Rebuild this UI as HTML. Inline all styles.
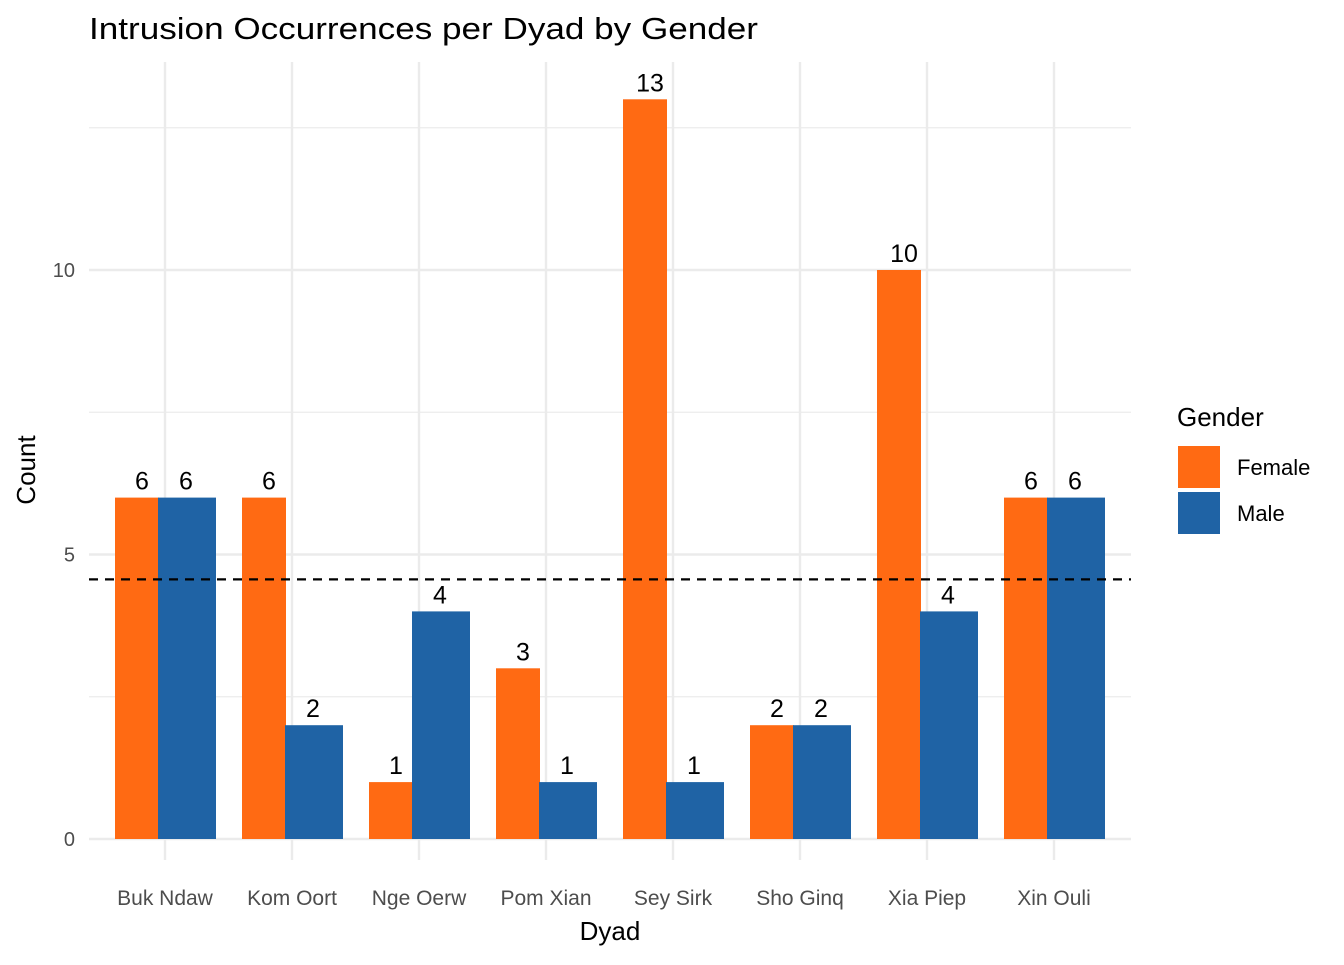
<!DOCTYPE html>
<html><head><meta charset="utf-8"><style>
body{margin:0;background:#fff;font-family:"Liberation Sans",Arial,sans-serif}
</style></head><body>
<svg id="chart" width="1344" height="960" xmlns="http://www.w3.org/2000/svg" font-family="Liberation Sans, Arial, sans-serif">
<text x="89" y="39" font-size="31" fill="#000" textLength="669" lengthAdjust="spacingAndGlyphs">Intrusion Occurrences per Dyad by Gender</text>
<g id="grid"></g><g id="bars"></g><g id="labels"></g>
<text x="610" y="940" font-size="26" text-anchor="middle">Dyad</text>
<text transform="translate(35,470) rotate(-90)" font-size="26" text-anchor="middle">Count</text>
<g>
<text x="1177" y="426" font-size="26">Gender</text>
<rect x="1178" y="446" width="42" height="42" fill="#FF6A13"/>
<text x="1237" y="475" font-size="22">Female</text>
<rect x="1178" y="492" width="42" height="42" fill="#1F63A5"/>
<text x="1237" y="521" font-size="22">Male</text>
</g>
</svg>
<script>
const categories=["Buk Ndaw","Kom Oort","Nge Oerw","Pom Xian","Sey Sirk","Sho Ginq","Xia Piep","Xin Ouli"];
const female=[6,6,1,3,13,2,10,6];
const male=[6,2,4,1,1,2,4,6];
const yTicks=[0,5,10];
const yMinor=[2.5,7.5,12.5];
const NS="http://www.w3.org/2000/svg";
const y=v=>839-v*56.9;
const x=i=>165+i*127;
function mk(t,a,p){const e=document.createElementNS(NS,t);for(const k in a)e.setAttribute(k,a[k]);p.appendChild(e);return e;}
const g=document.getElementById('grid'),b=document.getElementById('bars'),l=document.getElementById('labels');
yMinor.forEach(v=>{const e=mk('line',{x1:89,x2:1131,y1:y(v),y2:y(v),stroke:'#ebebeb','stroke-width':1.2},g);

});
yTicks.forEach(v=>{const e=mk('line',{x1:89,x2:1131,y1:y(v),y2:y(v),stroke:'#ebebeb','stroke-width':2.4},g);


const t=mk('text',{x:75,y:y(v)+7,'font-size':20,fill:'#4d4d4d','text-anchor':'end'},g);t.textContent=v;

});
categories.forEach((c,i)=>{const e=mk('line',{x1:x(i),x2:x(i),y1:62,y2:860,stroke:'#ebebeb','stroke-width':2.4},g);


const t=mk('text',{x:x(i),y:905,'font-size':21,fill:'#4d4d4d','text-anchor':'middle'},g);t.textContent=c;


const f=mk('rect',{x:x(i)-50,y:y(female[i]),width:44,height:839-y(female[i]),fill:'#FF6A13'},b);


const m=mk('rect',{x:x(i)-7,y:y(male[i]),width:58,height:839-y(male[i]),fill:'#1F63A5'},b);


const fl=mk('text',{x:x(i)-23,y:y(female[i])-8,'font-size':25,'text-anchor':'middle'},l);fl.textContent=female[i];


const ml=mk('text',{x:x(i)+21,y:y(male[i])-8,'font-size':25,'text-anchor':'middle'},l);ml.textContent=male[i];

});
const all=female.concat(male);const mean=all.reduce((a,c)=>a+c,0)/all.length;
const d=mk('line',{x1:89,x2:1131,y1:y(mean),y2:y(mean),stroke:'#000','stroke-width':2.2,'stroke-dasharray':'9,7'},l);


</script>
</body></html>
